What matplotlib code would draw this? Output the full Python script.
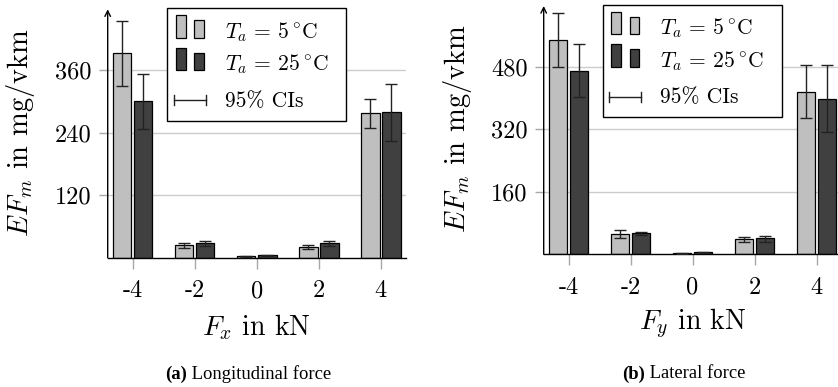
import matplotlib
matplotlib.use("Agg")
import matplotlib.pyplot as plt
import matplotlib.transforms as mtransforms
from matplotlib.patches import Rectangle
import numpy as np

# Applied force levels (kN)
forces = [-4, -2, 0, 2, 4]
force_labels = ["-4", "-2", "0", "2", "4"]

# Longitudinal force: mean emission factor and 95% CI bounds (mg/vkm)
fx_5 = [394, 24, 3, 20, 277]
fx_5_lo = [330, 19, 2, 16, 249]
fx_5_hi = [455, 29, 4, 24, 305]
fx_25 = [301, 28, 5, 28, 279]
fx_25_lo = [248, 22, 4, 22, 225]
fx_25_hi = [352, 33, 6, 33, 334]

# Lateral force: mean emission factor and 95% CI bounds (mg/vkm)
fy_5 = [548, 52, 3, 38, 415]
fy_5_lo = [478, 42, 2, 31, 349]
fy_5_hi = [617, 62, 4, 43, 483]
fy_25 = [470, 54, 5, 41, 398]
fy_25_lo = [403, 50, 4, 31, 312]
fy_25_hi = [538, 58, 6, 48, 483]

fx_yticks = [120, 240, 360]
fy_yticks = [160, 320, 480]

series_labels = [r"$T_a\,=\,5\,^{\circ}$C", r"$T_a\,=\,25\,^{\circ}$C"]
ci_label = "95% CIs"

LIGHT = "#bfbfbf"
DARK = "#404040"
ERRC = "#222222"
TICKC = "#a8a8a8"
GRIDC = "#cccccc"

plt.rcParams["font.family"] = "cmr10"
plt.rcParams["mathtext.fontset"] = "cm"
plt.rcParams["axes.unicode_minus"] = False
plt.rcParams["axes.formatter.use_mathtext"] = True

W, H = 838, 387
fig = plt.figure(figsize=(W / 100, H / 100), dpi=100)
# pixel coordinates measured from the top-left corner of the figure
PX = mtransforms.Affine2D().scale(1, -1).translate(0, H)


def px_axes(left, right, bottom, top):
    return fig.add_axes([left / W, 1 - bottom / H, (right - left) / W, (bottom - top) / H])


def draw_key(bx, by, bw, bh):
    """Framed key with paired-bar swatches and a CI whisker sample."""
    fig.patches.append(Rectangle((bx, by), bw, bh, facecolor="white",
                                 edgecolor="black", lw=1, transform=PX, zorder=5))
    rows = [(LIGHT, 29.2), (DARK, 61.5)]
    for (fc, base), lab in zip(rows, series_labels):
        fig.patches.append(Rectangle((bx + 8.7, by + base), 9.6, -22.3, facecolor=fc,
                                     edgecolor="black", lw=0.9, transform=PX, zorder=6))
        fig.patches.append(Rectangle((bx + 27.0, by + base), 9.2, -17.3, facecolor=fc,
                                     edgecolor="black", lw=0.9, transform=PX, zorder=6))
        fig.text(bx + 57.7, by + base + 0.5, lab, transform=PX, fontsize=15.5,
                 va="baseline", ha="left", zorder=6)
    yc = by + 91.7
    x0, x1 = bx + 6.7, bx + 38.7
    fig.lines.append(plt.Line2D([x0, x1], [yc, yc], color=ERRC, lw=1, transform=PX, zorder=6))
    for xx in (x0, x1):
        fig.lines.append(plt.Line2D([xx, xx], [yc - 5, yc + 5], color=ERRC, lw=1,
                                    transform=PX, zorder=6))
    fig.text(bx + 57.7, by + 98.4, ci_label, transform=PX, fontsize=15.5,
             va="baseline", ha="left", zorder=6)


def panel(ax, v5, lo5, hi5, v25, lo25, hi25, yticks, ytop, xlabel, ylabel_x):
    x = np.array(forces, dtype=float)
    off, bw = 0.34, 0.6
    v5, v25 = np.array(v5), np.array(v25)
    ax.bar(x - off, v5, bw, color=LIGHT, edgecolor="black", lw=0.9, zorder=2)
    ax.bar(x + off, v25, bw, color=DARK, edgecolor="black", lw=0.9, zorder=2)
    err5 = [v5 - np.array(lo5), np.array(hi5) - v5]
    err25 = [v25 - np.array(lo25), np.array(hi25) - v25]
    ax.errorbar(x - off, v5, yerr=err5, fmt="none", ecolor=ERRC,
                elinewidth=1, capsize=4.2, capthick=1, zorder=3)
    ax.errorbar(x + off, v25, yerr=err25, fmt="none", ecolor=ERRC,
                elinewidth=1, capsize=4.2, capthick=1, zorder=3)

    ax.set_xlim(-4.8, 4.8)
    ax.set_ylim(0, ytop)
    ax.set_xticks(forces)
    ax.set_xticklabels(force_labels)
    ax.set_yticks(yticks)
    ax.set_yticklabels([str(t) for t in yticks])
    ax.tick_params(axis="x", direction="out", length=8, width=1, color=TICKC,
                   pad=8, labelsize=17.5)
    ax.tick_params(axis="y", direction="out", length=6.5, width=1, color=TICKC,
                   pad=5, labelsize=17.5)
    ax.yaxis.grid(True, color=GRIDC, lw=1)
    ax.set_axisbelow(True)
    for s in ("top", "right", "left"):
        ax.spines[s].set_visible(False)
    ax.spines["bottom"].set_linewidth(1)
    ax.annotate("", xy=(0, 1), xytext=(0, 0), xycoords="axes fraction",
                arrowprops=dict(arrowstyle="->", lw=1, color="black",
                                shrinkA=0, shrinkB=0, mutation_scale=10),
                annotation_clip=False)
    ax.set_xlabel(xlabel, fontsize=20, va="center")
    ax.xaxis.set_label_coords(0.5, -0.281)
    ax.set_ylabel(r"$EF_m$ in mg/vkm", fontsize=20.5, va="center")
    ax.yaxis.set_label_coords(ylabel_x, 0.505)
    return ax


ax1 = px_axes(107.7, 405.7, 257.7, 9.3)
panel(ax1, fx_5, fx_5_lo, fx_5_hi, fx_25, fx_25_lo, fx_25_hi,
      fx_yticks, 477, r"$F_x$ in kN", -0.294)
draw_key(167.3, 8.3, 178.7, 112.7)

ax2 = px_axes(543.7, 841.3, 254.3, 6.0)
panel(ax2, fy_5, fy_5_lo, fy_5_hi, fy_25, fy_25_lo, fy_25_hi,
      fy_yticks, 635, r"$F_y$ in kN", -0.291)
draw_key(602.7, 5.0, 179.6, 112.3)

# Sub-figure captions: bold tag followed by regular text
fig.canvas.draw()
renderer = fig.canvas.get_renderer()
for tag, rest, xc in (("(a)", " Longitudinal force", 248.3), ("(b)", " Lateral force", 684.0)):
    t1 = fig.text(0, 1 - 374 / H, tag, family="Liberation Serif", weight="bold",
                  fontsize=13.4, va="center", ha="left")
    t2 = fig.text(0, 1 - 374 / H, rest, family="Liberation Serif",
                  fontsize=13.4, va="center", ha="left")
    w1 = t1.get_window_extent(renderer).width
    w2 = t2.get_window_extent(renderer).width
    x0 = xc - (w1 + w2) / 2
    t1.set_x(x0 / W)
    t2.set_x((x0 + w1) / W)

fig.savefig("out.png", dpi=100)
